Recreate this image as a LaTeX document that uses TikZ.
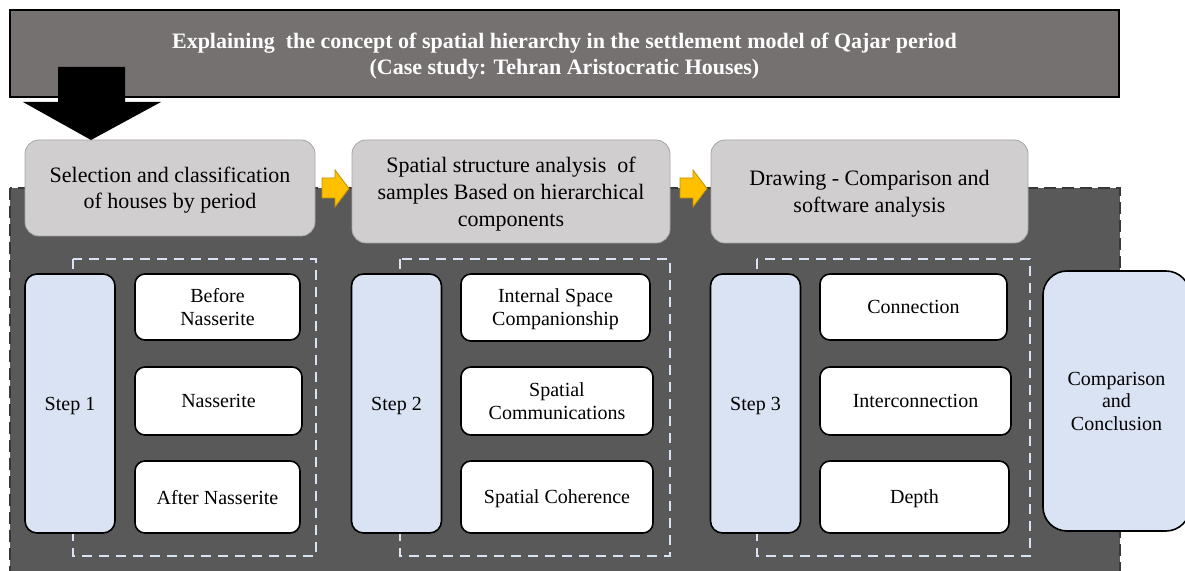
\documentclass[tikz,border=0pt]{standalone}
\usepackage{fontspec}
\setmainfont{Liberation Serif}
\usepackage{xcolor}
\usetikzlibrary{positioning}

\definecolor{titlefill}{HTML}{767171}
\definecolor{panelfill}{HTML}{595959}
\definecolor{paneldash}{HTML}{383838}
\definecolor{hdrfill}{HTML}{D0CECE}
\definecolor{hdrline}{HTML}{A6A6A6}
\definecolor{stepfill}{HTML}{DAE3F3}
\definecolor{grpdash}{HTML}{DAE3F3}
\definecolor{arrowfill}{HTML}{FFC000}
\definecolor{arrowline}{HTML}{BF9000}

\tikzset{
  hdrbox/.style={draw=hdrline, fill=hdrfill, rounded corners=7pt, align=center,
    inner sep=0pt, text depth=0pt, font=\fontsize{11}{13.2}\selectfont},
  stepbox/.style={draw=black, line width=0.8pt, fill=stepfill, rounded corners=6pt,
    minimum width=45pt, minimum height=129.5pt, inner sep=0pt, text depth=0pt,
    font=\fontsize{10}{12}\selectfont},
  itembox/.style={draw=black, line width=0.8pt, fill=white, rounded corners=5pt,
    align=center, inner sep=0pt, text depth=0pt, font=\fontsize{10}{11.5}\selectfont},
  grpline/.style={draw=grpdash, line width=1pt, dash pattern=on 5pt off 3.5pt},
  nextarrow/.style={fill=arrowfill, draw=arrowline, line width=0.4pt},
}

\begin{document}
\begin{tikzpicture}[x=0.5pt, y=-0.5pt]
    \clip (0,0) rectangle (1185,571);
    \fill[white] (0,0) rectangle (1185,571);

    % Dark panel
    \draw[fill=panelfill, draw=paneldash, line width=1.2pt, dash pattern=on 6pt off 3pt]
        (10,188) rectangle (1120,600);

    % Title
    \node[draw=black, line width=0.8pt, fill=titlefill, minimum width=554.5pt, minimum height=43.5pt,
          align=center, text=white, text depth=0pt, font=\bfseries\fontsize{11}{13}\selectfont] (title) at (564.5,53.5)
        {Explaining\ \ the concept of spatial hierarchy in the settlement model of Qajar period\\
         (Case study: Tehran Aristocratic Houses)};

    % Headers
    \node[hdrbox, minimum width=145pt, minimum height=48pt] (select) at (170,188)
        {Selection and classification\\of houses by period};
    \node[hdrbox, minimum width=159pt, minimum height=51.5pt, font=\fontsize{11}{13.5}\selectfont] (struct) at (511,191.5)
        {Spatial structure analysis\ \ of\\samples Based\ on hierarchical\\components};
    \node[hdrbox, minimum width=158.5pt, minimum height=51.5pt] (drawing) at (869.5,191.5)
        {Drawing - Comparison and\\software analysis};

    % Black arrow from title to first header
    \fill[black] (58,67) -- (125,67) -- (125,102) -- (161,102) -- (91,140) -- (23,102) -- (58,102) -- cycle;

    % Yellow arrows between headers
    \foreach \ax in {322,680}{
      \draw[nextarrow] (\ax,178) -- (\ax+13,178) -- (\ax+13,170) -- (\ax+27,188.5)
          -- (\ax+13,207) -- (\ax+13,198) -- (\ax,198) -- cycle;
    }

    % Dashed groups
    \draw[grpline] (73,259) rectangle (316,556);
    \draw[grpline] (400,259) rectangle (670,556);
    \draw[grpline] (757,259) rectangle (1030,556);

    % Steps
    \node[stepbox] (step1) at (70,403.5) {Step 1};
    \node[stepbox] (step2) at (396.5,403.5) {Step 2};
    \node[stepbox] (step3) at (755.5,403.5) {Step 3};

    % Step 1 items
    \node[itembox, minimum width=82.5pt, minimum height=33pt] (before) at (217.5,307) {Before\\Nasserite};
    \node[itembox, minimum width=83.5pt, minimum height=34pt] (nass) at (218.5,401) {Nasserite};
    \node[itembox, minimum width=82.5pt, minimum height=36pt] (after) at (217.5,497) {After Nasserite};

    % Step 2 items
    \node[itembox, minimum width=94.5pt, minimum height=33.5pt] (internal) at (555.5,307.5) {Internal Space\\Companionship};
    \node[itembox, minimum width=96pt, minimum height=34pt] (comm) at (557,401) {Spatial\\Communications};
    \node[itembox, minimum width=96pt, minimum height=36pt] (coher) at (557,497) {Spatial Coherence};

    % Step 3 items
    \node[itembox, minimum width=93.5pt, minimum height=33pt] (conn) at (913.5,307) {Connection};
    \node[itembox, minimum width=95.5pt, minimum height=34pt] (inter) at (915.5,401) {Interconnection};
    \node[itembox, minimum width=94.5pt, minimum height=36pt] (depth) at (914.5,497) {Depth};

    % Conclusion
    \node[stepbox, rounded corners=12pt, minimum width=73.5pt, minimum height=130pt, align=center,
          font=\fontsize{10}{11.3}\selectfont] (concl) at (1116.5,401) {Comparison\\and\\Conclusion};
\end{tikzpicture}
\end{document}
